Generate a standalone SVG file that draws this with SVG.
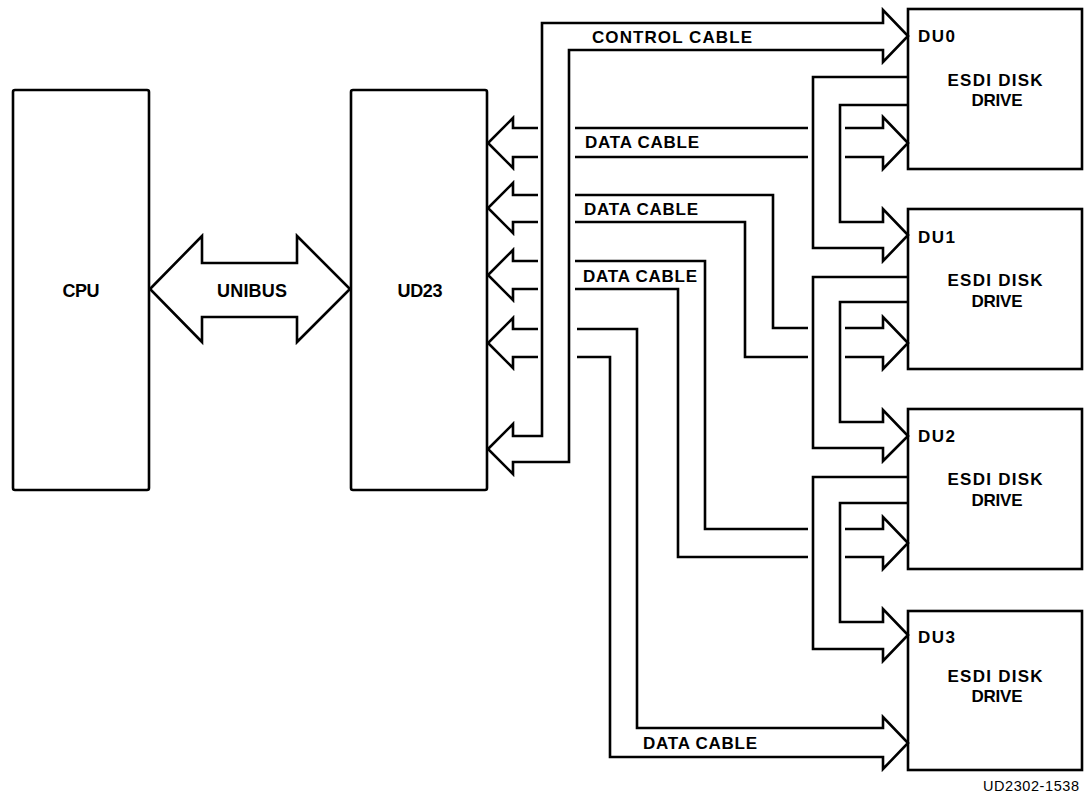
<svg xmlns="http://www.w3.org/2000/svg" width="1084" height="799" viewBox="0 0 1084 799">
<style>
.box{fill:#fff;stroke:#000;stroke-width:2.6}
.ln{fill:none;stroke:#000;stroke-width:2.6;stroke-linejoin:miter}
.t{font-family:"Liberation Sans",Arial,sans-serif;font-weight:bold;fill:#000;font-size:17px}
.m{font-size:18px}
.c{text-anchor:middle}
.f{font-family:"Liberation Sans",Arial,sans-serif;fill:#000;font-size:14.5px}
</style>
<rect width="1084" height="799" fill="#fff"/>
<g id="cpu">
<rect class="box" x="13" y="90" width="136" height="400" rx="2"/>
<text class="t m c" x="81" y="297" textLength="37">CPU</text>
</g>
<g id="ud23">
<rect class="box" x="351" y="90" width="136" height="400" rx="2"/>
<text class="t m c" x="420" y="297" textLength="45">UD23</text>
</g>
<g id="du0">
<rect class="box" x="908" y="9" width="174" height="160"/>
<text class="t" x="918" y="42" textLength="37">DU0</text>
<text class="t c" x="995" y="86" textLength="95">ESDI DISK</text>
<text class="t c" x="997" y="106" textLength="51">DRIVE</text>
</g>
<g id="du1">
<rect class="box" x="908" y="209" width="174" height="160"/>
<text class="t" x="918" y="243" textLength="37">DU1</text>
<text class="t c" x="995" y="286" textLength="95">ESDI DISK</text>
<text class="t c" x="997" y="307" textLength="51">DRIVE</text>
</g>
<g id="du2">
<rect class="box" x="908" y="409" width="174" height="160"/>
<text class="t" x="918" y="442" textLength="37">DU2</text>
<text class="t c" x="995" y="485" textLength="95">ESDI DISK</text>
<text class="t c" x="997" y="506" textLength="51">DRIVE</text>
</g>
<g id="du3">
<rect class="box" x="908" y="611" width="174" height="159"/>
<text class="t" x="918" y="643" textLength="37">DU3</text>
<text class="t c" x="995" y="682" textLength="95">ESDI DISK</text>
<text class="t c" x="997" y="702" textLength="51">DRIVE</text>
</g>
<g id="connectors">
<g id="unibus">
<path class="ln" d="M150,289 L202,236 L202,263 L297,263 L297,236 L350,289 L297,342 L297,317 L202,317 L202,342 Z"/>
<text class="t m c" x="252" y="297" textLength="70">UNIBUS</text>
</g>
<g id="control-cable">
<path class="ln" d="M488,449 L513,424 L513,436 L542,436 L542,23 L883,23 L883,10 L908,36 L883,62 L883,50 L569,50 L569,462 L513,462 L513,474 Z"/>
<text class="t" x="592" y="43" textLength="160">CONTROL CABLE</text>
</g>
<g id="data-cable-1">
<path class="ln" d="M538,128 L513,128 L513,118 L488,143 L513,168 L513,157 L538,157 M575,128 L808,128 M575,157 L808,157 M845,128 L883,128 L883,117 L908,143 L883,169 L883,157 L845,157"/>
<text class="t" x="585" y="148" textLength="114">DATA CABLE</text>
</g>
<g id="data-cable-2">
<path class="ln" d="M538,195 L513,195 L513,183 L488,208 L513,233 L513,222 L538,222 M575,195 L773,195 L773,328 L808,328 M575,222 L745,222 L745,357 L808,357 M845,328 L883,328 L883,317 L908,343 L883,369 L883,357 L845,357"/>
<text class="t" x="584" y="215" textLength="114">DATA CABLE</text>
</g>
<g id="data-cable-3">
<path class="ln" d="M538,261 L513,261 L513,250 L488,275 L513,300 L513,289 L538,289 M575,261 L705,261 L705,529 L808,529 M575,289 L678,289 L678,557 L808,557 M845,529 L883,529 L883,517 L908,543 L883,569 L883,557 L845,557"/>
<text class="t" x="583" y="282" textLength="114">DATA CABLE</text>
</g>
<g id="data-cable-4">
<path class="ln" d="M538,329 L513,329 L513,318 L488,343 L513,368 L513,357 L538,357 M577,329 L637,329 L637,728 L883,728 L883,717 L908,743 L883,769 L883,757 L610,757 L610,357 L577,357"/>
<text class="t" x="643" y="749" textLength="114">DATA CABLE</text>
</g>
<g id="chain-0-1">
<path class="ln" d="M908,77 L813,77 L813,248 L883,248 L883,261 L908,235 L883,209 L883,222 L840,222 L840,105 L908,105"/>
</g>
<g id="chain-1-2">
<path class="ln" d="M908,277 L813,277 L813,448 L883,448 L883,461 L908,436 L883,410 L883,422 L840,422 L840,302 L908,302"/>
</g>
<g id="chain-2-3">
<path class="ln" d="M908,477 L813,477 L813,649 L883,649 L883,661 L908,635 L883,609 L883,622 L840,622 L840,503 L908,503"/>
</g>
</g>
<text class="f" x="1079" y="791" text-anchor="end" textLength="96">UD2302-1538</text>
</svg>
